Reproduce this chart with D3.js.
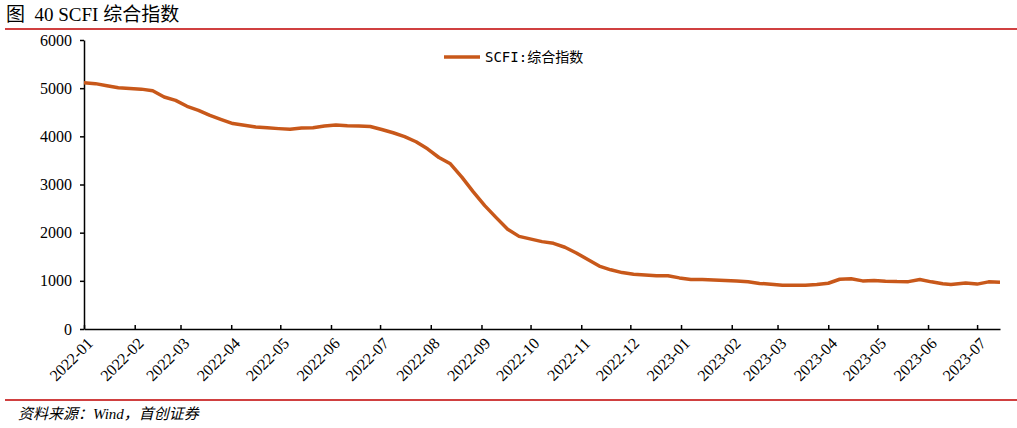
<!DOCTYPE html>
<html><head><meta charset="utf-8">
<script src="https://cdn.jsdelivr.net/npm/d3@7"></script>
<style>body{margin:0;background:#fff}</style>
</head><body>
<div id="chart"></div>
<script>
// weekly SCFI values
const dates = ["2022-01-07","2022-01-14","2022-01-21","2022-01-28","2022-02-11","2022-02-18","2022-02-25",
  "2022-03-04","2022-03-11","2022-03-18","2022-03-25","2022-04-01","2022-04-08","2022-04-15","2022-04-22","2022-04-29",
  "2022-05-06","2022-05-13","2022-05-20","2022-05-27","2022-06-03","2022-06-10","2022-06-17","2022-06-24",
  "2022-07-01","2022-07-08","2022-07-15","2022-07-22","2022-07-29","2022-08-05","2022-08-12","2022-08-19","2022-08-26",
  "2022-09-02","2022-09-09","2022-09-16","2022-09-23","2022-09-30","2022-10-14","2022-10-21","2022-10-28",
  "2022-11-04","2022-11-11","2022-11-18","2022-11-25","2022-12-02","2022-12-09","2022-12-16","2022-12-23","2022-12-30",
  "2023-01-06","2023-01-13","2023-01-20","2023-02-03","2023-02-10","2023-02-17","2023-02-24",
  "2023-03-03","2023-03-10","2023-03-17","2023-03-24","2023-03-31","2023-04-07","2023-04-14","2023-04-21","2023-04-28",
  "2023-05-05","2023-05-12","2023-05-19","2023-05-26","2023-06-02","2023-06-09","2023-06-16","2023-06-21","2023-06-30",
  "2023-07-07","2023-07-14","2023-07-21"];
const scfi = [5110,5094,5050,5010,4980,4947,4817,
  4746,4624,4540,4434,4347,4265,4230,4194,4177,
  4160,4147,4175,4180,4215,4233,4220,4216,
  4204,4143,4074,3993,3887,3740,3561,3429,3154,
  2848,2562,2312,2072,1923,1814,1779,1697,
  1579,1443,1306,1229,1171,1138,1123,1108,1107,
  1061,1029,1030,1005,995,980,946,
  931,906,909,908,923,950,1033,1043,999,
  1008,993,984,983,1029,979,938,925,953,
  932,979,971];
const yTicks = [0,1000,2000,3000,4000,5000,6000];
// month ticks sit at the first weekly slot of each month
const monthTicks = d3.range(19).map(i => new Date(2022, i, 7));

const width = 1017, height = 428;
const svg = d3.select("#chart").append("svg")
  .attr("width", width).attr("height", height);

const x = d3.scaleTime().domain([new Date(2022,0,7), new Date(2023,6,21)]).range([84, 1000]);
const y = d3.scaleLinear().domain([0, 6000]).range([329, 40]);

// title and rules
svg.append("text").attr("x", 6).attr("y", 21)
  .style("font-family", "'Liberation Serif','Noto Sans CJK SC'").style("font-size", "19px")
  .attr("xml:space", "preserve")
  .text("图  40 SCFI 综合指数");
svg.append("line").attr("x1", 5).attr("x2", 1017).attr("y1", 29).attr("y2", 29)
  .attr("stroke", "#c00000").attr("stroke-width", 1.5);
svg.append("line").attr("x1", 5).attr("x2", 1017).attr("y1", 400).attr("y2", 400)
  .attr("stroke", "#c00000").attr("stroke-width", 1.5);
svg.append("text").attr("x", 18).attr("y", 419)
  .style("font-family", "'Liberation Serif','Noto Sans CJK SC'").style("font-size", "15px").style("font-style", "italic")
  .text("资料来源：Wind，首创证券");

// axes
const yAxis = svg.append("g").attr("transform", "translate(84,0)")
  .call(d3.axisLeft(y).tickValues(yTicks).tickSize(4).tickSizeOuter(0).tickFormat(d3.format("d")));
const xAxis = svg.append("g").attr("transform", "translate(0,329)")
  .call(d3.axisBottom(x).tickValues(monthTicks).tickSize(-4).tickSizeOuter(0).tickFormat(d3.timeFormat("%Y-%m")));
[yAxis, xAxis].forEach(g => {
  g.select(".domain").attr("stroke", "#000").attr("stroke-width", 1.5);
  g.selectAll("line").attr("stroke", "#000").attr("stroke-width", 1.5);
  g.selectAll("text").style("font-family", "'Liberation Serif'").style("font-size", "16px").attr("fill", "#000");
});
yAxis.selectAll("text").attr("x", -12);
xAxis.selectAll("text")
  .attr("text-anchor", "end").attr("dy", "0.3em").attr("dx", 0)
  .attr("transform", "translate(6,12) rotate(-45)").attr("y", 0);

// line
const data = dates.map((d, i) => ({ date: new Date(d), v: scfi[i] }));
svg.append("path").datum(data)
  .attr("fill", "none").attr("stroke", "#c8581a").attr("stroke-width", 3.5)
  .attr("stroke-linejoin", "round")
  .attr("d", d3.line().x(d => x(d.date)).y(d => y(d.v)));

// legend
svg.append("line").attr("x1", 444).attr("x2", 480).attr("y1", 57).attr("y2", 57)
  .attr("stroke", "#c8581a").attr("stroke-width", 3.5);
svg.append("text").attr("x", 485).attr("y", 62)
  .style("font-family", "'DejaVu Sans Mono','Noto Sans CJK SC'").style("font-size", "14px")
  .text("SCFI:综合指数");
</script>
</body></html>
